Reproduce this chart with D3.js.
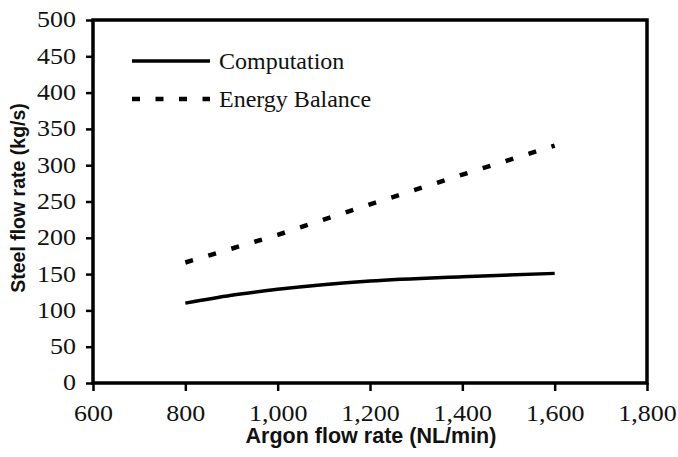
<!DOCTYPE html>
<html>
<head>
<meta charset="utf-8">
<script src="https://cdn.jsdelivr.net/npm/d3@7"></script>
<style>
  body { margin: 0; background: #fff; }
  svg { display: block; }
</style>
</head>
<body>
<div id="chart"></div>
<script>
// values
const argonFlow = [800, 900, 1000, 1200, 1400, 1600];
const computation = [110, 121, 129, 140.5, 146.5, 151];
const balanceFlow = [800, 1000, 1200, 1400, 1600];
const energyBalance = [166, 204, 246, 287, 327];
const xTicks = [600, 800, 1000, 1200, 1400, 1600, 1800];
const yTicks = [0, 50, 100, 150, 200, 250, 300, 350, 400, 450, 500];
const seriesNames = ["Computation", "Energy Balance"];

const width = 678,
    height = 457,
    margin = {top: 20, right: 31, bottom: 74, left: 93};

const serif = "'Liberation Serif', 'Times New Roman', serif",
    sans = "'Liberation Sans', Arial, sans-serif";

// tick labels in the original are a bit wider than plain Times
const stretch = 1.13;

const svg = d3.select("#chart").append("svg")
    .attr("width", width)
    .attr("height", height);

const x = d3.scaleLinear()
    .domain([600, 1800])
    .range([margin.left, width - margin.right]);

const y = d3.scaleLinear()
    .domain([0, 500])
    .range([height - margin.bottom, margin.top]);

// y axis
const gy = svg.append("g")
    .attr("transform", "translate(" + margin.left + ",0)")
    .call(d3.axisLeft(y).tickValues(yTicks).tickSize(7).tickSizeOuter(0).tickPadding(10));

// x axis
const gx = svg.append("g")
    .attr("transform", "translate(0," + (height - margin.bottom) + ")")
    .call(d3.axisBottom(x).tickValues(xTicks).tickSize(8).tickSizeOuter(0)
      .tickPadding(14).tickFormat(d3.format(",")));

[gx, gy].forEach(g => {
  g.select(".domain").remove();
  g.selectAll(".tick line").attr("stroke", "#000").attr("stroke-width", 2.5);
  g.selectAll(".tick text")
      .attr("fill", "#111")
      .attr("transform", "scale(" + stretch + ",1)")
      .style("font-family", serif)
      .style("font-size", "23px");
});
gy.selectAll(".tick text")
    .attr("x", -17 / stretch)
    .attr("dy", "0.3em");

// plot frame
svg.append("rect")
    .attr("x", x(600))
    .attr("y", y(500))
    .attr("width", x(1800) - x(600))
    .attr("height", y(0) - y(500))
    .attr("fill", "none")
    .attr("stroke", "#000")
    .attr("stroke-width", 3.5);

const line = d3.line()
    .x(d => x(d[0]))
    .y(d => y(d[1]));

svg.append("path")
    .datum(d3.zip(argonFlow, computation))
    .attr("fill", "none")
    .attr("stroke", "#000")
    .attr("stroke-width", 3.5)
    .attr("d", line.curve(d3.curveMonotoneX));

svg.append("path")
    .datum(d3.zip(balanceFlow, energyBalance))
    .attr("fill", "none")
    .attr("stroke", "#000")
    .attr("stroke-width", 4.5)
    .attr("stroke-dasharray", "8,16")
    .attr("d", line.curve(d3.curveLinear));

// legend
const legend = svg.append("g");
seriesNames.forEach((name, i) => {
  const ly = 61 + i * 38;
  legend.append("line")
      .attr("x1", 132).attr("x2", 210)
      .attr("y1", ly).attr("y2", ly)
      .attr("stroke", "#000")
      .attr("stroke-width", i ? 4.5 : 3.5)
      .attr("stroke-dasharray", i ? "8,15.5" : null);
  legend.append("text")
      .attr("x", 219)
      .attr("y", ly + 8)
      .style("font-family", serif)
      .style("font-size", "24px")
      .attr("fill", "#111")
      .text(name);
});

// axis titles
svg.append("text")
    .attr("x", (x(600) + x(1800)) / 2 + 1)
    .attr("y", 443)
    .attr("text-anchor", "middle")
    .style("font-family", sans)
    .style("font-weight", "bold")
    .style("font-size", "21.5px")
    .attr("fill", "#111")
    .text("Argon flow rate (NL/min)");

svg.append("text")
    .attr("transform", "translate(25,198) rotate(-90)")
    .attr("text-anchor", "middle")
    .style("font-family", sans)
    .style("font-weight", "bold")
    .style("font-size", "19.5px")
    .attr("fill", "#111")
    .text("Steel flow rate (kg/s)");
</script>
</body>
</html>
